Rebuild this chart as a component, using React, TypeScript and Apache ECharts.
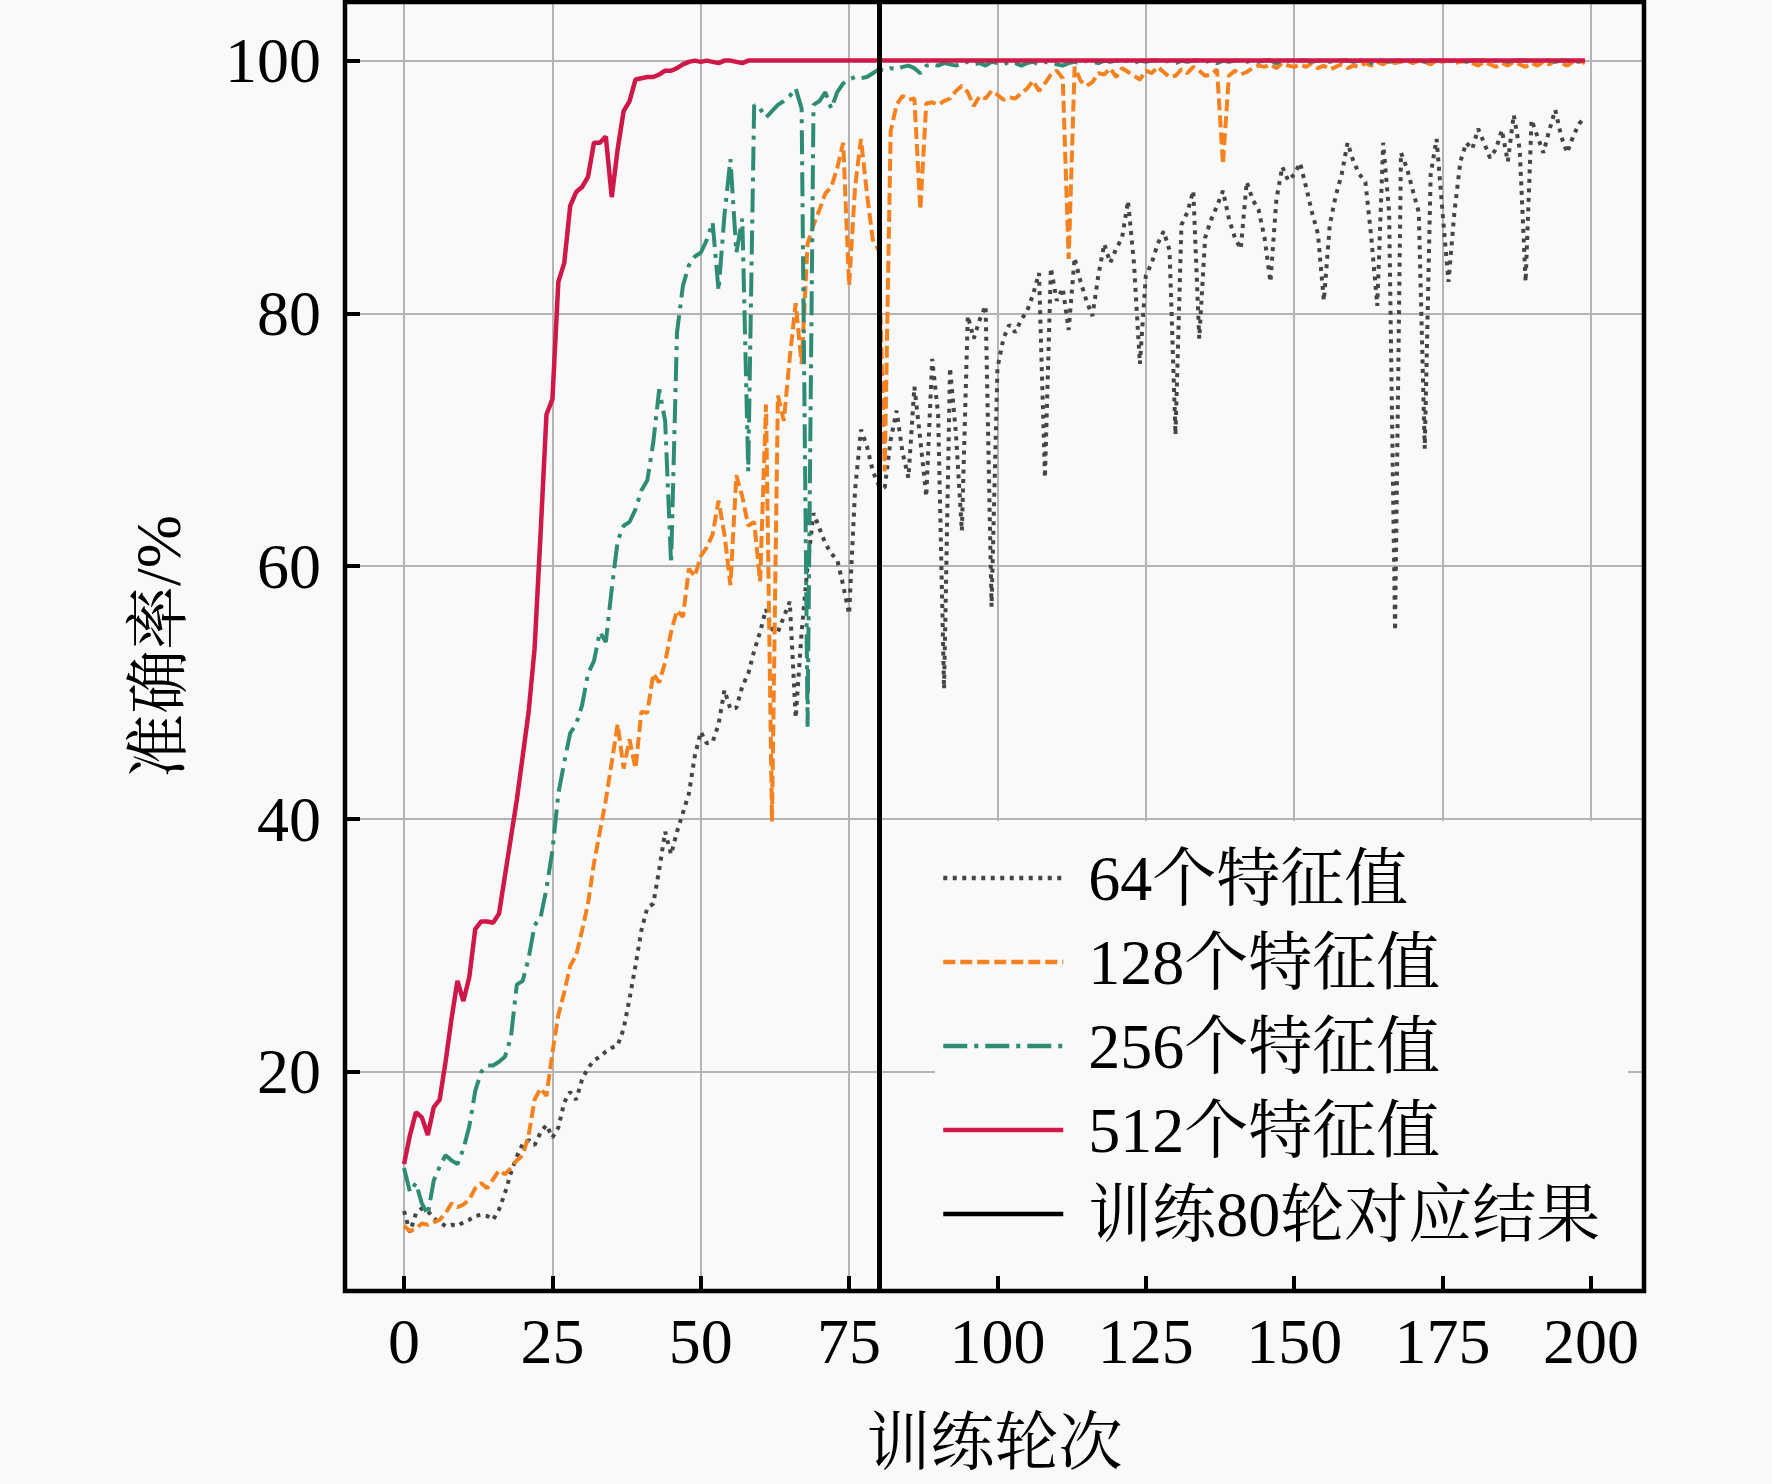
import React, { useEffect, useRef } from 'react';
import * as echarts from 'echarts';

const seriesNames = ['64个特征值', '128个特征值', '256个特征值', '512个特征值'];
const markName = '训练80轮对应结果';
const markEpoch = 80;
const xTicks = [0, 25, 50, 75, 100, 125, 150, 175, 200];
const yTicks = [20, 40, 60, 80, 100];
const xTitle = '训练轮次';
const yTitle = '准确率/%';

const acc64 = [
  9.0, 7.3, 8.8, 9.2, 9.0, 8.4, 8.1, 7.8, 7.9, 7.8,
  8.1, 8.3, 8.6, 8.7, 8.6, 8.3, 9.1, 10.4, 12.0, 13.3,
  14.3, 14.6, 14.2, 15.2, 15.8, 14.8, 15.6, 17.6, 18.4, 17.8,
  19.4, 20.3, 20.9, 21.2, 21.6, 21.9, 22.1, 23.4, 25.8, 28.4,
  31.2, 33.0, 33.3, 36.0, 39.0, 37.2, 39.0, 40.5, 42.0, 45.0,
  46.9, 46.0, 46.1, 47.5, 50.2, 48.7, 48.8, 50.5, 51.5, 53.3,
  54.8, 56.6, 55.0, 54.8, 56.0, 57.2, 48.0, 54.8, 60.0, 64.2,
  63.0, 61.8, 61.0, 60.5, 58.5, 56.2, 66.0, 70.8, 69.5, 67.5,
  66.4, 66.2, 70.0, 72.3, 69.0, 67.0, 74.2, 70.0, 65.5, 76.4,
  72.0, 50.3, 75.7, 70.5, 62.8, 79.8, 78.0, 79.5, 80.6, 56.8,
  75.7, 78.0, 79.1, 78.5, 79.5, 80.2, 81.5, 83.2, 67.0, 83.6,
  81.0, 82.0, 78.7, 84.4, 82.5, 81.0, 79.8, 83.0, 85.5, 84.0,
  85.1, 86.0, 88.9, 84.0, 76.0, 83.0, 84.0, 85.5, 86.5, 85.0,
  70.4, 87.0, 88.0, 89.7, 78.0, 86.0, 87.4, 88.5, 89.7, 87.5,
  86.0, 85.1, 90.4, 89.0, 88.2, 86.0, 82.5, 89.0, 91.6, 90.5,
  91.0, 91.9, 90.0, 88.0, 86.3, 81.0, 87.0, 89.3, 91.0, 93.5,
  92.0, 91.0, 90.4, 86.0, 80.6, 93.5, 88.0, 54.9, 92.7, 91.5,
  89.7, 88.0, 69.3, 91.0, 93.8, 88.0, 82.5, 88.0, 92.0, 93.5,
  93.0, 94.6, 93.5, 92.3, 93.0, 94.5, 92.0, 95.7, 93.0, 82.5,
  95.3, 94.0, 92.7, 94.5, 96.1, 94.0, 92.7, 94.0, 95.0, 95.5,
];

const acc128 = [
  7.8, 7.4, 7.6, 8.0, 7.9, 8.1, 8.3, 8.8, 9.6, 9.3,
  9.5, 9.9, 10.8, 11.2, 10.8, 11.5, 12.2, 11.9, 12.4, 13.0,
  13.4, 15.0, 17.8, 18.7, 18.1, 21.5, 24.5, 26.3, 28.4, 29.2,
  31.2, 33.3, 36.5, 39.0, 41.5, 44.5, 47.5, 44.0, 46.3, 44.0,
  48.5, 48.4, 51.5, 50.8, 52.4, 54.8, 56.5, 56.0, 59.8, 59.2,
  60.8, 61.5, 62.5, 65.2, 62.5, 58.5, 67.2, 65.5, 63.2, 63.5,
  58.8, 72.8, 39.8, 73.5, 71.5, 76.5, 80.8, 76.0, 85.5, 87.0,
  88.2, 89.5, 90.0, 91.5, 93.5, 82.2, 90.0, 93.8, 89.5, 85.8,
  85.0, 67.5, 94.4, 96.5, 97.2, 96.9, 97.0, 88.2, 96.6, 96.7,
  96.5, 96.8, 97.0, 97.6, 98.0, 97.5, 96.4, 97.2, 97.0, 97.6,
  97.3, 96.9, 97.1, 97.0, 97.4, 97.8, 98.4, 97.6, 98.2, 98.9,
  99.2, 98.6, 84.3, 99.5, 98.4, 98.0, 98.3, 99.0, 98.9, 99.4,
  98.7, 99.4, 99.1, 98.8, 98.5, 99.2, 99.0, 99.5, 99.1, 98.7,
  98.8, 99.3, 99.0, 99.5, 99.2, 98.8, 98.9, 99.3, 91.8, 98.8,
  99.2, 98.9, 99.1, 99.4, 99.6, 99.5, 99.7, 99.4, 99.8, 99.6,
  99.5, 99.7, 99.5, 99.8, 99.4, 99.6, 99.3, 99.5, 99.7, 99.4,
  99.6, 99.5, 99.8, 99.6, 99.9, 99.7, 100, 99.8, 99.9, 100,
  99.8, 100, 99.9, 99.7, 100, 99.9, 100, 99.8, 99.9, 100,
  99.8, 99.6, 99.9, 99.7, 99.5, 99.8, 99.6, 99.9, 99.7, 99.5,
  99.8, 99.6, 99.9, 99.7, 100, 99.8, 99.6, 99.9, 100, 99.8,
];

const acc256 = [
  12.4, 10.5, 11.2, 9.6, 8.7, 11.4, 12.5, 13.4, 13.0, 12.7,
  13.9, 15.7, 18.5, 20.0, 20.5, 20.5, 20.8, 21.2, 22.7, 26.9,
  27.2, 29.0, 31.6, 32.2, 34.5, 37.5, 42.0, 44.5, 46.8, 47.5,
  49.0, 51.5, 52.5, 54.8, 54.0, 58.2, 62.0, 63.2, 63.5, 64.5,
  66.0, 66.8, 69.8, 74.0, 71.5, 60.2, 78.5, 82.2, 83.8, 84.5,
  84.8, 85.8, 87.2, 81.8, 87.8, 92.2, 84.8, 87.5, 67.5, 96.5,
  96.2, 95.5, 96.0, 96.5, 96.8, 97.2, 97.8, 96.2, 47.3, 96.5,
  96.8, 97.5, 96.2, 97.5, 98.2, 98.5, 98.7, 98.6, 98.7, 99.0,
  99.3, 99.2, 99.4, 99.3, 99.5, 99.6, 99.4, 99.0, 99.6, 99.7,
  99.6, 99.8, 99.7, 99.6, 99.8, 99.9, 99.7, 99.8, 99.6, 99.9,
  99.8, 99.7, 99.9, 99.8, 99.6, 99.8, 99.9, 99.7, 99.9, 99.8,
  99.7, 99.6, 99.8, 99.9, 99.8, 100, 99.9, 99.8, 100, 99.9,
  100, 99.9, 100, 99.8, 100, 99.9, 100, 100, 99.9, 100,
  99.8, 100, 99.9, 100, 100, 99.9, 100, 99.8, 100, 99.9,
  100, 100, 99.9, 100, 99.9, 100, 100, 99.8, 100, 100,
  99.9, 100, 100, 99.9, 100, 100, 99.9, 100, 100, 100,
  99.9, 100, 100, 99.8, 100, 100, 99.9, 100, 100, 99.9,
  100, 100, 99.9, 100, 100, 100, 99.9, 100, 100, 99.9,
  100, 100, 100, 99.9, 100, 100, 99.9, 100, 100, 100,
  99.9, 100, 100, 100, 99.9, 100, 100, 100, 99.9, 100,
];

const acc512 = [
  12.7, 15.0, 16.8, 16.4, 15.0, 17.2, 17.8, 20.8, 24.2, 27.2,
  25.6, 27.5, 31.3, 31.9, 31.9, 31.8, 32.5, 35.5, 38.5, 41.5,
  45.0, 48.5, 53.5, 62.5, 72.0, 73.2, 82.5, 84.0, 88.5, 89.6,
  90.0, 90.8, 93.5, 93.5, 94.0, 89.2, 93.0, 96.0, 96.8, 98.5,
  98.6, 98.7, 98.7, 98.9, 99.2, 99.2, 99.4, 99.7, 99.9, 100,
  99.9, 100, 99.9, 99.8, 100, 100, 99.9, 99.8, 100, 100,
  100, 100, 100, 100, 100, 100, 100, 100, 100, 100,
  100, 100, 100, 100, 100, 100, 100, 100, 100, 100,
  100, 100, 100, 100, 100, 100, 100, 100, 100, 100,
  100, 100, 100, 100, 100, 100, 100, 100, 100, 100,
  100, 100, 100, 100, 100, 100, 100, 100, 100, 100,
  100, 100, 100, 100, 100, 100, 100, 100, 100, 100,
  100, 100, 100, 100, 100, 100, 100, 100, 100, 100,
  100, 100, 100, 100, 100, 100, 100, 100, 100, 100,
  100, 100, 100, 100, 100, 100, 100, 100, 100, 100,
  100, 100, 100, 100, 100, 100, 100, 100, 100, 100,
  100, 100, 100, 100, 100, 100, 100, 100, 100, 100,
  100, 100, 100, 100, 100, 100, 100, 100, 100, 100,
  100, 100, 100, 100, 100, 100, 100, 100, 100, 100,
  100, 100, 100, 100, 100, 100, 100, 100, 100, 100,
];

const seriesValues = [acc64, acc128, acc256, acc512];
const seriesColors = ['#454545', '#f5821f', '#2e8b74', '#cf1748'];
const seriesWidths = [4, 4, 4, 4.5];
const seriesDash: (number[] | string)[] = [[4, 5.5], [12, 5], [24, 7, 4, 7], 'solid'];

const FONT = "'Liberation Serif', 'Times New Roman', 'Noto Serif CJK SC', 'Noto Sans CJK SC', serif";

export default function App() {
  const ref = useRef<HTMLDivElement>(null);
  useEffect(() => {
    if (!ref.current) return;
    const chart = echarts.init(ref.current, undefined, { renderer: 'svg' });

    // matplotlib-like 5% margins
    const n = acc64.length;
    const xLo = 0, xHi = n - 1;
    const xPad = (xHi - xLo) * 0.05;
    const xMin = xLo - xPad, xMax = xHi + xPad;
    const all = seriesValues.flat();
    const yLo = Math.min(...all), yHi = Math.max(...all);
    const yPad = (yHi - yLo) * 0.05;
    const yMin = yLo - yPad, yMax = yHi + yPad;

    const gl = 345, gt = 2, gw = 1299, gh = 1289;
    const sx = gw / (xMax - xMin);
    const sy = gh / (yMax - yMin);
    const xt0 = xTicks[0], xt1 = xTicks[xTicks.length - 1];
    const yt0 = yTicks[0], yt1 = yTicks[yTicks.length - 1];
    const g1Left = gl + (xt0 - xMin) * sx;
    const g1W = (xt1 - xt0) * sx;
    const g2Top = gt + (yMax - yt1) * sy;
    const g2H = (yt1 - yt0) * sy;

    const labelStyle = { fontSize: 64, fontFamily: FONT, color: '#000' };
    const tickStyle = { show: true, inside: true, length: 15, lineStyle: { color: '#000', width: 4 } };
    const gridLine = { show: true, lineStyle: { color: '#b4b4b4', width: 2 } };
    const hidden = { show: false };

    const series: any[] = seriesNames.map((name, k) => ({
      name,
      type: 'line',
      xAxisIndex: 0,
      yAxisIndex: 0,
      data: seriesValues[k].map((v, i) => [i, v]),
      symbol: 'none',
      showSymbol: false,
      color: seriesColors[k],
      lineStyle: { color: seriesColors[k], width: seriesWidths[k], type: seriesDash[k], cap: 'butt' },
      z: 2 + k,
    }));
    series.push({
      name: markName,
      type: 'line',
      xAxisIndex: 0,
      yAxisIndex: 0,
      data: [],
      symbol: 'none',
      color: '#000',
      lineStyle: { color: '#000', width: 5, type: 'solid' },
      z: 10,
      markLine: {
        silent: true,
        symbol: ['none', 'none'],
        label: { show: false },
        lineStyle: { color: '#000', width: 5, type: 'solid' },
        data: [{ xAxis: markEpoch }],
        z: 10,
      },
    });

    chart.setOption({
      animation: false,
      backgroundColor: '#f9f9f9',
      grid: [
        { left: gl, top: gt, width: gw, height: gh, show: true, borderColor: '#000', borderWidth: 4.5, backgroundColor: 'transparent', z: 5 },
        { left: g1Left, top: gt, width: g1W, height: gh },
        { left: gl, top: g2Top, width: gw, height: g2H },
      ],
      xAxis: [
        {
          gridIndex: 0, type: 'value', min: xMin, max: xMax,
          axisLine: { show: false, onZero: false }, axisTick: hidden, axisLabel: hidden, splitLine: hidden,
          name: xTitle, nameLocation: 'middle', nameGap: 119,
          nameTextStyle: { ...labelStyle },
        },
        {
          gridIndex: 1, type: 'value', min: xt0, max: xt1, interval: xTicks[1] - xTicks[0],
          axisLine: { show: false, onZero: false }, axisTick: tickStyle,
          axisLabel: { ...labelStyle, margin: 18 }, splitLine: gridLine,
        },
        { gridIndex: 2, type: 'value', show: false, min: 0, max: 1 },
      ],
      yAxis: [
        {
          gridIndex: 0, type: 'value', min: yMin, max: yMax,
          axisLine: { show: false, onZero: false }, axisTick: hidden, axisLabel: hidden, splitLine: hidden,
          name: yTitle, nameLocation: 'middle', nameGap: 155, nameRotate: 90,
          nameTextStyle: { ...labelStyle },
        },
        { gridIndex: 1, type: 'value', show: false, min: 0, max: 1 },
        {
          gridIndex: 2, type: 'value', min: yt0, max: yt1, interval: yTicks[1] - yTicks[0],
          axisLine: { show: false, onZero: false }, axisTick: tickStyle,
          axisLabel: { ...labelStyle, margin: 24 }, splitLine: gridLine,
        },
      ],
      legend: {
        orient: 'vertical',
        left: 935,
        top: 821,
        padding: [25, 28, 30, 6],
        itemWidth: 120,
        itemHeight: 24,
        itemGap: 20,
        backgroundColor: '#f9f9f9',
        selectedMode: false,
        itemStyle: { opacity: 0 },
        lineStyle: { width: 4.5 },
        textStyle: { fontSize: 64, fontFamily: FONT, color: '#000', lineHeight: 64, padding: [0, 0, 0, 20] },
        data: [...seriesNames, markName],
        z: 20,
      },
      series,
    });
    return () => chart.dispose();
  }, []);
  return <div ref={ref} style={{ position: 'fixed', left: 0, top: 0, width: 1772, height: 1484 }} />;
}
